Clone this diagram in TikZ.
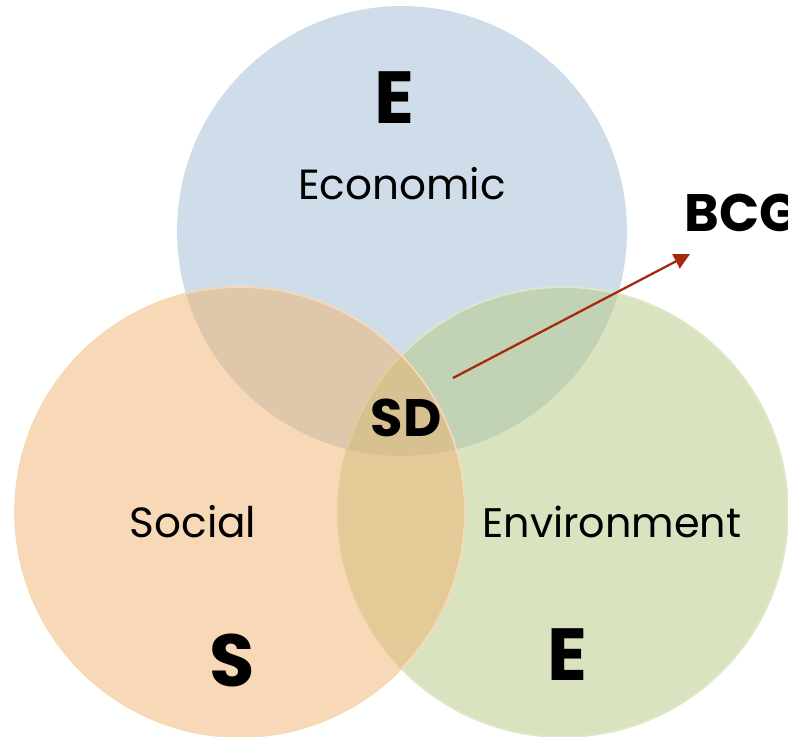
\documentclass[tikz,border=0pt]{standalone}
\usepackage{fontspec}
\setmainfont{Poppins}
\usetikzlibrary{arrows.meta}
\usetikzlibrary{positioning}

\definecolor{econblue}{RGB}{159,187,215}
\definecolor{socorange}{RGB}{239,177,111}
\definecolor{envgreen}{RGB}{179,199,129}
\definecolor{socedge}{RGB}{248,217,183}
\definecolor{envedge}{RGB}{222,232,200}
\definecolor{arrowred}{RGB}{165,42,14}

\tikzset{
  pillar/.style={fill opacity=0.5, draw opacity=1, line width=1pt},
  letter/.style={font=\bfseries\fontsize{42}{42}\selectfont, inner sep=0pt},
  word/.style={font=\fontsize{24}{24}\selectfont, inner sep=0pt},
  tag/.style={font=\bfseries\fontsize{30}{30}\selectfont, inner sep=0pt}
}

\begin{document}
\begin{tikzpicture}[x=0.02cm, y=-0.02cm]
	  \useasboundingbox (0,0) rectangle (788,737);

	  % Draw the three pillars
	  \fill[econblue, pillar] (402,231) circle[radius=4.5cm];
	  \filldraw[envgreen, pillar, draw=envedge] (563,512) circle[radius=4.5cm];
	  \filldraw[socorange, pillar, draw=socedge] (240,512) circle[radius=4.5cm];

	  % Labels of each pillar
	  \node[letter] (econ_letter) at (394,98) {E};
	  \node[word] (econ_word) at (402,184) {Economic};
	  \node[word] (soc_word) at (193,522) {Social};
	  \node[word, font=\fontsize{23.5}{24}\selectfont] (env_word) at (612,522) {Environment};
	  \node[letter] (soc_letter) at (232,660) {S};
	  \node[letter] (env_letter) at (567,655) {E};

	  % Centre and outside tag
	  \node[tag] (sd) at (406,418) {SD};
	  \node[tag, anchor=west] (bcg) at (684,213) {BCG};

	  % Arrow from the centre to BCG
	  \coordinate (arrow_start) at (453,378);
	  \coordinate (arrow_end) at (690,254);
	  \draw[arrowred, line width=1.3pt, -{Triangle[length=9pt, width=9pt]}] (arrow_start) -- (arrow_end);
\end{tikzpicture}
\end{document}
